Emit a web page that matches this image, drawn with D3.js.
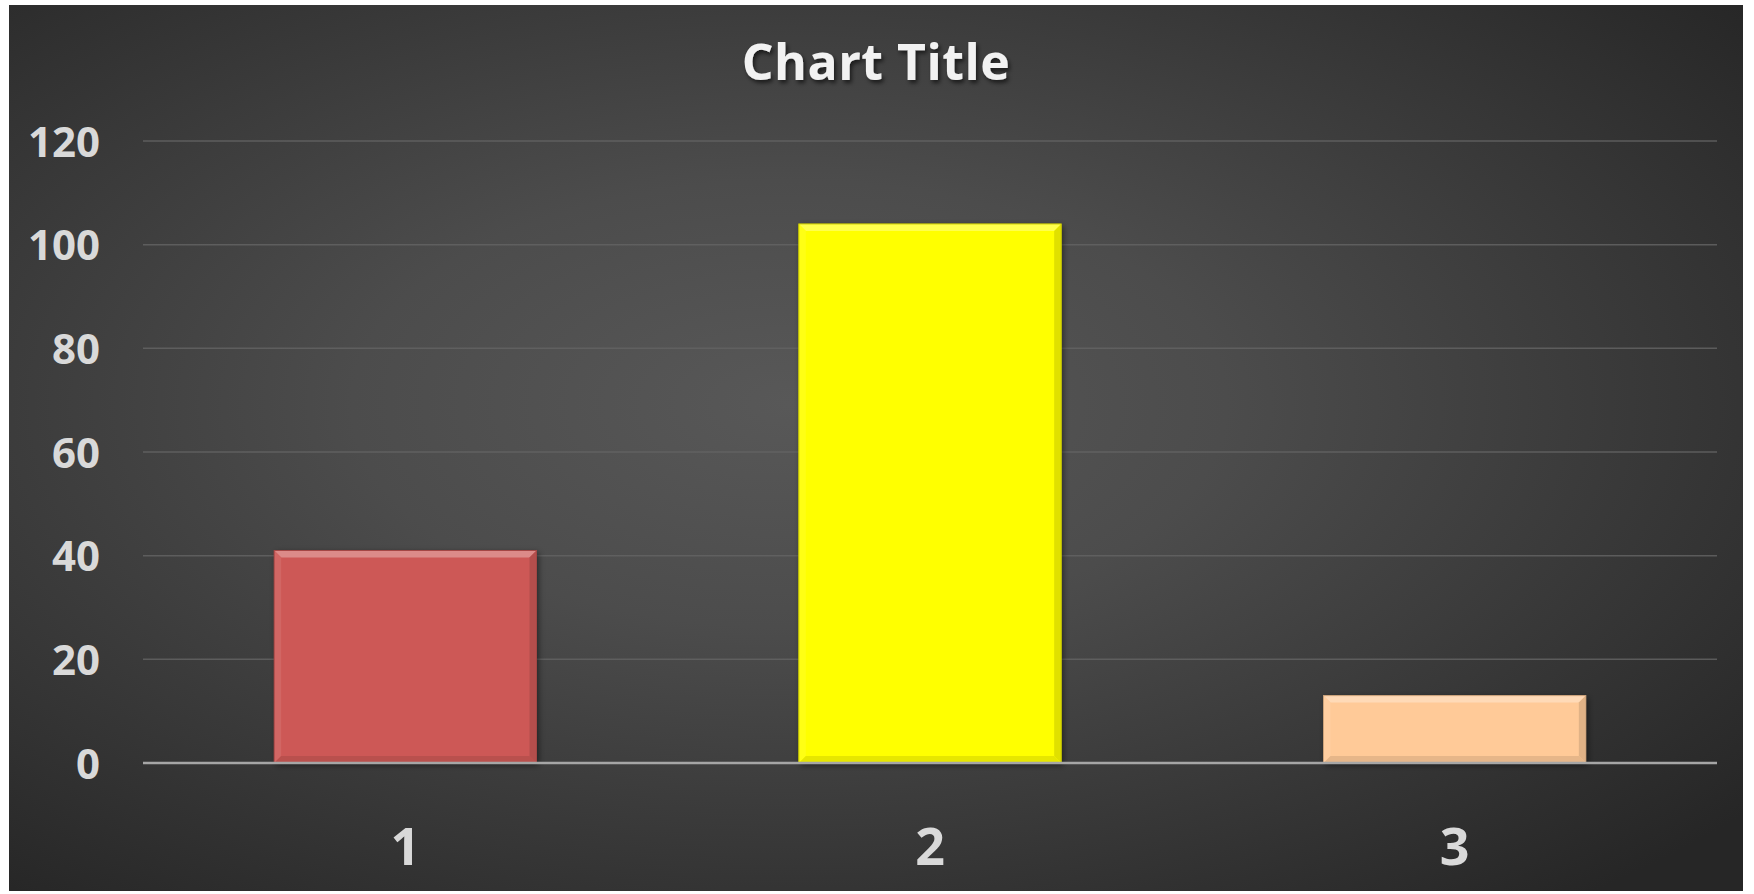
<!DOCTYPE html>
<html>
<head>
<meta charset="utf-8">
<script src="https://cdn.jsdelivr.net/npm/d3@7"></script>
<style>
  html, body { margin: 0; padding: 0; background: #fff; }
  text { font-family: "Open Sans", sans-serif; font-weight: 700; }
</style>
</head>
<body>
<div id="chart"></div>
<script>
const width = 1754, height = 894;

const categories = ["1", "2", "3"];
const values = [41, 104, 13];
const barColors = ["#CD5956", "#FFFF00", "#FFCA98"];
const yTicks = [0, 20, 40, 60, 80, 100, 120];
const chartTitle = "Chart Title";

const frame = { x: 9, y: 5, w: 1734, h: 886 };
const plot = { left: 143, right: 1717, top: 141, bottom: 763 };

const svg = d3.select("#chart").append("svg")
    .attr("width", width)
    .attr("height", height);

const defs = svg.append("defs");

const bg = defs.append("radialGradient")
    .attr("id", "bg")
    .attr("cx", "45%").attr("cy", "45%").attr("r", "72%");
bg.append("stop").attr("offset", "0%").attr("stop-color", "#585858");
bg.append("stop").attr("offset", "35%").attr("stop-color", "#4c4c4c");
bg.append("stop").attr("offset", "100%").attr("stop-color", "#262626");

defs.append("filter").attr("id", "barShadow")
    .attr("x", "-10%").attr("y", "-10%").attr("width", "130%").attr("height", "130%")
  .append("feDropShadow")
    .attr("dx", 2).attr("dy", 2).attr("stdDeviation", 3)
    .attr("flood-color", "#000").attr("flood-opacity", 0.5);

defs.append("filter").attr("id", "textShadow")
    .attr("x", "-10%").attr("y", "-20%").attr("width", "130%").attr("height", "160%")
  .append("feDropShadow")
    .attr("dx", 2).attr("dy", 3).attr("stdDeviation", 2)
    .attr("flood-color", "#000").attr("flood-opacity", 0.6);

svg.append("rect")
    .attr("x", frame.x).attr("y", frame.y)
    .attr("width", frame.w).attr("height", frame.h)
    .attr("fill", "url(#bg)");

const x = d3.scaleBand()
    .domain(categories)
    .range([plot.left, plot.right])
    .paddingInner(0.5)
    .paddingOuter(0.25);

const y = d3.scaleLinear()
    .domain([0, 120])
    .range([plot.bottom, plot.top]);

// gridlines
svg.append("g")
    .selectAll("line")
    .data(yTicks.filter(d => d > 0))
    .enter().append("line")
    .attr("x1", plot.left).attr("x2", plot.right)
    .attr("y1", d => y(d)).attr("y2", d => y(d))
    .attr("stroke", "#636363")
    .attr("stroke-opacity", 0.85)
    .attr("stroke-width", 1.5);

// y axis labels
const yAxis = d3.axisLeft(y).tickValues(yTicks).tickSize(0).tickPadding(0);
svg.append("g")
    .attr("transform", `translate(100,0)`)
    .call(yAxis)
    .call(g => g.select(".domain").remove())
    .selectAll("text")
    .attr("fill", "#d9d9d9")
    .attr("font-size", 42)
    .attr("font-family", "Open Sans")
    .attr("font-weight", 700)
    .attr("dy", "0.36em");

// bars with a simple bevel
const bw = x.bandwidth();
const bev = 7;
const bars = svg.append("g")
    .selectAll("g.bar")
    .data(categories.map((c, i) => ({ cat: c, value: values[i], color: barColors[i] })))
    .enter().append("g")
    .attr("class", "bar");

bars.append("rect")
    .attr("x", d => x(d.cat))
    .attr("y", d => y(d.value))
    .attr("width", bw)
    .attr("height", d => y(0) - y(d.value))
    .attr("fill", d => d.color)
    .attr("filter", "url(#barShadow)");

// top highlight
bars.append("path")
    .attr("d", d => {
        const x0 = x(d.cat), y0 = y(d.value);
        return `M${x0},${y0}L${x0 + bw},${y0}L${x0 + bw - bev},${y0 + bev}L${x0 + bev},${y0 + bev}Z`;
    })
    .attr("fill", d => d3.interpolateRgb(d.color, "#fff")(0.3));

// left edge
bars.append("path")
    .attr("d", d => {
        const x0 = x(d.cat), y0 = y(d.value), y1 = y(0);
        return `M${x0},${y0}L${x0 + bev},${y0 + bev}L${x0 + bev},${y1 - bev}L${x0},${y1}Z`;
    })
    .attr("fill", d => d3.interpolateRgb(d.color, "#fff")(0.08));

// right edge
bars.append("path")
    .attr("d", d => {
        const x0 = x(d.cat) + bw, y0 = y(d.value), y1 = y(0);
        return `M${x0},${y0}L${x0 - bev},${y0 + bev}L${x0 - bev},${y1 - bev}L${x0},${y1}Z`;
    })
    .attr("fill", d => d3.interpolateRgb(d.color, "#000")(0.12));

// bottom edge
bars.append("path")
    .attr("d", d => {
        const x0 = x(d.cat), y1 = y(0);
        return `M${x0},${y1}L${x0 + bev},${y1 - bev}L${x0 + bw - bev},${y1 - bev}L${x0 + bw},${y1}Z`;
    })
    .attr("fill", d => d3.interpolateRgb(d.color, "#000")(0.1));

// bar outline
bars.append("rect")
    .attr("x", d => x(d.cat))
    .attr("y", d => y(d.value))
    .attr("width", bw)
    .attr("height", d => y(0) - y(d.value))
    .attr("fill", "none")
    .attr("stroke", d => d3.interpolateRgb(d.color, "#000")(0.2))
    .attr("stroke-width", 1);

// baseline
svg.append("line")
    .attr("x1", plot.left).attr("x2", plot.right)
    .attr("y1", y(0)).attr("y2", y(0))
    .attr("stroke", "#a6a6a6")
    .attr("stroke-width", 2.5);

// x axis labels
const xAxis = d3.axisBottom(x).tickSize(0).tickPadding(0);
svg.append("g")
    .attr("transform", `translate(0,865)`)
    .call(xAxis)
    .call(g => g.select(".domain").remove())
    .selectAll("text")
    .attr("fill", "#d9d9d9")
    .attr("font-size", 52)
    .attr("font-family", "Open Sans")
    .attr("font-weight", 700)
    .attr("dy", 0)
    .attr("y", 0);

// title
svg.append("text")
    .attr("x", frame.x + frame.w / 2)
    .attr("y", 80)
    .attr("text-anchor", "middle")
    .attr("fill", "#f2f2f2")
    .attr("font-size", 50)
    .attr("letter-spacing", 0.5)
    .attr("filter", "url(#textShadow)")
    .text(chartTitle);
</script>
</body>
</html>
